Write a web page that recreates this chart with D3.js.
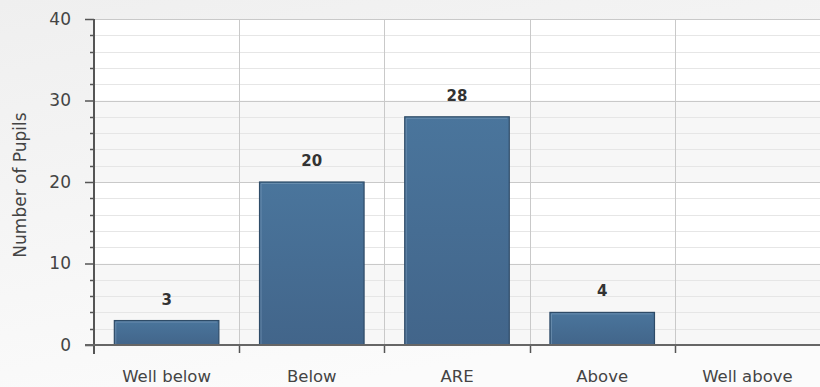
<!DOCTYPE html>
<html><head><meta charset="utf-8">
<script src="https://cdn.jsdelivr.net/npm/d3@7"></script>
<style>html,body{margin:0;padding:0;background:#fff}svg{display:block}</style>
</head><body>
<script>
const categories = ["Well below", "Below", "ARE", "Above", "Well above"];
const pupils = [3, 20, 28, 4, 0];
const yMajorTicks = [0, 10, 20, 30, 40];
const yTitle = "Number of Pupils";

const W = 820, H = 387;
const m = {left: 94, right: 820, top: 19, bottom: 345};
const svg = d3.select("body").append("svg").attr("width", W).attr("height", H);
const defs = svg.append("defs");
const bg = defs.append("linearGradient").attr("id", "bg").attr("x1", 0).attr("y1", 0).attr("x2", 0.4).attr("y2", 1);
bg.append("stop").attr("offset", "0").attr("stop-color", "#efefef");
bg.append("stop").attr("offset", "1").attr("stop-color", "#fbfbfb");
const bar = defs.append("linearGradient").attr("id", "bar").attr("x1", 0).attr("y1", 0).attr("x2", 0).attr("y2", 1);
bar.append("stop").attr("offset", "0").attr("stop-color", "#4a759c");
bar.append("stop").attr("offset", "1").attr("stop-color", "#42658a");

svg.append("rect").attr("width", W).attr("height", H).attr("fill", "url(#bg)");

const x = d3.scaleBand().domain(categories).range([m.left, m.right]).padding(0);
const xb = d3.scaleBand().domain(categories).range([m.left, m.right]).paddingInner(0.28).paddingOuter(0.14);
const y = d3.scaleLinear().domain([0, 40]).range([m.bottom, m.top]);

// plot background bands
const bands = d3.range(0, 40, 10);
svg.append("g").selectAll("rect").data(bands).join("rect")
  .attr("x", m.left).attr("width", m.right - m.left)
  .attr("y", d => y(d + 10)).attr("height", d => y(d) - y(d + 10))
  .attr("fill", d => (d / 10) % 2 === 0 ? "#f7f7f7" : "#ffffff");

// minor grid
const minor = y.ticks(20).filter(t => t % 10 !== 0);
svg.append("g").selectAll("line").data(minor).join("line")
  .attr("x1", m.left).attr("x2", m.right)
  .attr("y1", d => Math.round(y(d)) + 0.5).attr("y2", d => Math.round(y(d)) + 0.5)
  .attr("stroke", "#e6e6e6");
// major grid
svg.append("g").selectAll("line").data(yMajorTicks.filter(t => t > 0)).join("line")
  .attr("x1", m.left).attr("x2", m.right)
  .attr("y1", d => Math.round(y(d)) + 0.5).attr("y2", d => Math.round(y(d)) + 0.5)
  .attr("stroke", "#c9c9c9");
// vertical category lines
svg.append("g").selectAll("line").data(categories.slice(1)).join("line")
  .attr("x1", d => Math.round(x(d)) + 0.5).attr("x2", d => Math.round(x(d)) + 0.5)
  .attr("y1", m.top).attr("y2", m.bottom)
  .attr("stroke", "#c9c9c9");

// bars
const data = categories.map((c, i) => ({c, v: pupils[i]})).filter(d => d.v > 0);
const bg2 = svg.append("g");
bg2.selectAll("rect.b").data(data).join("rect").attr("class", "b")
  .attr("x", d => xb(d.c)).attr("width", xb.bandwidth())
  .attr("y", d => y(d.v)).attr("height", d => y(0) - y(d.v))
  .attr("fill", "url(#bar)").attr("stroke", "#2e4b67").attr("stroke-width", 1.2);
bg2.selectAll("path.hl").data(data).join("path").attr("class", "hl")
  .attr("d", d => `M${xb(d.c) + 1.5},${y(0)} V${y(d.v) + 1.5} H${xb(d.c) + xb.bandwidth() - 2}`)
  .attr("fill", "none").attr("stroke", "#7d9cbb").attr("stroke-opacity", 0.6);
bg2.selectAll("text").data(data).join("text")
  .attr("x", d => xb(d.c) + xb.bandwidth() / 2).attr("y", d => y(d.v) - 16)
  .attr("text-anchor", "middle").attr("font-family", "DejaVu Sans").attr("font-weight", "bold")
  .attr("font-size", 15).attr("fill", "#333").text(d => d.v);

// y axis
const yAxis = d3.axisLeft(y).tickValues(yMajorTicks).tickSize(9).tickPadding(14).tickSizeOuter(0);
const ga = svg.append("g").attr("transform", `translate(${m.left},0)`).call(yAxis);
ga.select(".domain").remove();
ga.selectAll(".tick line").attr("stroke", "#555").attr("stroke-width", 1.5);
ga.selectAll(".tick text").attr("font-family", "DejaVu Sans").attr("font-size", 17).attr("fill", "#444");
svg.append("g").selectAll("line").data(minor).join("line")
  .attr("x1", m.left - 4).attr("x2", m.left)
  .attr("y1", d => Math.round(y(d)) + 0.5).attr("y2", d => Math.round(y(d)) + 0.5)
  .attr("stroke", "#555").attr("stroke-width", 1.5);
svg.append("line").attr("x1", m.left).attr("x2", m.left).attr("y1", m.top).attr("y2", m.bottom + 9)
  .attr("stroke", "#555").attr("stroke-width", 2);

// x axis
const xAxis = d3.axisBottom(x).tickSize(0).tickPadding(25);
const gx = svg.append("g").attr("transform", `translate(0,${m.bottom})`).call(xAxis);
gx.select(".domain").remove();
gx.selectAll(".tick text").attr("font-family", "DejaVu Sans").attr("font-size", 16.5).attr("fill", "#444");
svg.append("g").selectAll("line").data(categories.slice(1)).join("line")
  .attr("x1", d => Math.round(x(d)) + 0.5).attr("x2", d => Math.round(x(d)) + 0.5)
  .attr("y1", m.bottom).attr("y2", m.bottom + 8)
  .attr("stroke", "#555").attr("stroke-width", 1.5);
svg.append("line").attr("x1", m.left - 9).attr("x2", m.right).attr("y1", m.bottom).attr("y2", m.bottom)
  .attr("stroke", "#666").attr("stroke-width", 2);

// y title
svg.append("text").attr("transform", `translate(26,${(m.top + m.bottom) / 2 + 3}) rotate(-90)`)
  .attr("text-anchor", "middle").attr("font-family", "DejaVu Sans").attr("font-size", 17)
  .attr("fill", "#444").text(yTitle);
</script>
</body></html>
